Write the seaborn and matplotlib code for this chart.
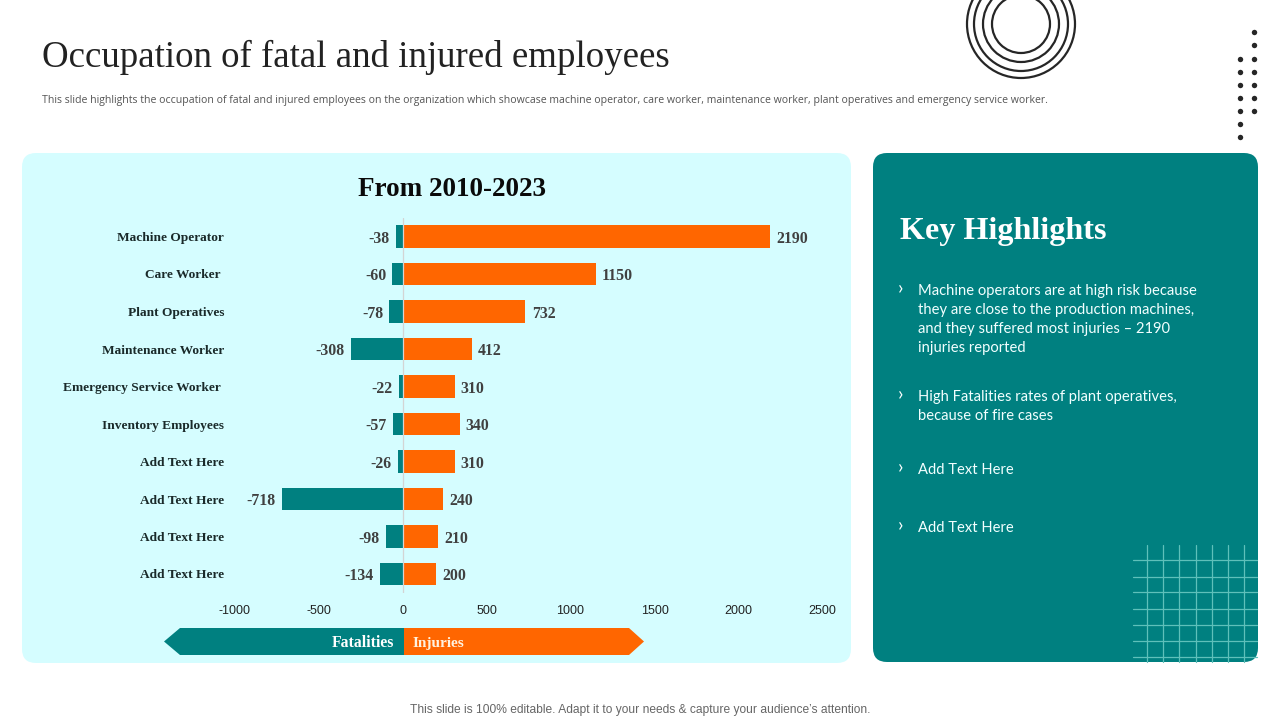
import matplotlib
matplotlib.use('Agg')
import matplotlib.pyplot as plt
from matplotlib.patches import FancyBboxPatch, Polygon, Circle
import pandas as pd
import seaborn as sns

occupations = ['Machine Operator', 'Care Worker ', 'Plant Operatives', 'Maintenance Worker',
               'Emergency Service Worker ', 'Inventory Employees', 'Add Text Here',
               'Add Text Here', 'Add Text Here', 'Add Text Here']
fatalities = [-38, -60, -78, -308, -22, -57, -26, -718, -98, -134]
injuries = [2190, 1150, 732, 412, 310, 340, 310, 240, 210, 200]
x_ticks = [-1000, -500, 0, 500, 1000, 1500, 2000, 2500]

title = 'Occupation of fatal and injured employees'
subtitle = ('This slide highlights the occupation of fatal and injured employees on the organization '
            'which showcase machine operator, care worker, maintenance worker, plant operatives '
            'and emergency service worker.')
footer = "This slide is 100% editable. Adapt it to your needs & capture your audience\u2019s attention."
highlights = [
    (290.5, ['Machine operators are at high risk because', 'they are close to the production machines,',
             'and they suffered most injuries \u2013 2190', 'injuries reported']),
    (396.5, ['High Fatalities rates of plant operatives,', 'because of fire cases']),
    (469.5, ['Add Text Here']),
    (527.5, ['Add Text Here']),
]

TEAL = '#008080'
ORANGE = '#FF6600'
PALE = '#D5FDFF'
INK = '#222222'
SERIF = 'Liberation Serif'

sns.set_theme(style='white')
fig = plt.figure(figsize=(12.8, 7.2), dpi=100, facecolor='white')

# full slide layer in pixel coordinates for the panels and decoration
bg = fig.add_axes([0, 0, 1, 1])
bg.set_xlim(0, 1280)
bg.set_ylim(720, 0)
bg.axis('off')


def panel(x0, y0, x1, y1, color):
    r = 14
    bg.add_patch(FancyBboxPatch((x0 + r, y0 + r), x1 - x0 - 2 * r, y1 - y0 - 2 * r,
                                boxstyle=f'round,pad={r},rounding_size={r}',
                                fc=color, ec='none'))


panel(22, 153, 851, 663, PALE)
panel(873, 153, 1258, 662, TEAL)

# rings at the top, cut by the slide edge
for r in (29, 38, 47, 54):
    bg.add_patch(Circle((1021, 24), r, fc='none', ec='#262626', lw=1.6))

# dot column decoration
for y in (32, 45, 59, 72, 85, 98, 111):
    bg.plot(1254, y, 'o', color='#262626', ms=3.9, mew=0)
for y in (59, 72, 85, 98, 111, 124, 137):
    bg.plot(1240, y, 'o', color='#262626', ms=3.9, mew=0)

# grid decoration in the corner of the key highlights panel
for x in (1147, 1163, 1179, 1196, 1212, 1228, 1244):
    bg.plot([x, x], [545, 662], color='#5FC0BA', lw=0.9)
for y in (560, 577, 592, 609, 625, 641, 657):
    bg.plot([1133, 1257], [y, y], color='#5FC0BA', lw=0.9)

bg.text(42, 57, title, family=SERIF, fontsize=26.6, color=INK, va='center', ha='left')
bg.text(42, 100, subtitle, family='Open Sans', fontsize=7.6, color='#555555', va='center', ha='left')
bg.text(640.5, 710.5, footer, family='Liberation Sans', fontsize=8.65, color='#666666', va='center', ha='center')
bg.text(452, 189, 'From 2010-2023', family=SERIF, fontsize=19.5, weight='bold', color='#0A0A0A',
        va='center', ha='center')

# right panel text
bg.text(900, 231, 'Key Highlights', family=SERIF, fontsize=23.1, weight='bold', color='white',
        va='center', ha='left')
for y, lines in highlights:
    bg.text(901, y - 2.5, '\u203a', family='Lato', fontsize=14, color='white', va='center', ha='center')
    for i, line in enumerate(lines):
        bg.text(918, y + i * 19.3, line, family='Lato', fontsize=10.6, color='#F2FFFF', va='center', ha='left')

# legend arrows
bg.add_patch(Polygon([(404, 628), (180, 628), (164, 641.5), (180, 655), (404, 655)], fc=TEAL, ec='none'))
bg.add_patch(Polygon([(404, 628), (629, 628), (644, 641.5), (629, 655), (404, 655)], fc=ORANGE, ec='none'))
bg.text(394, 643, 'Fatalities', family=SERIF, fontsize=11.3, weight='bold', color='white', va='center', ha='right')
bg.text(413, 643, 'Injuries', family=SERIF, fontsize=11, weight='bold', color='#FFF2E0', va='center', ha='left')

# the chart itself, x from -1000 to 2500 and one band per occupation
left, right, top, bottom = 234.5, 822.5, 217.75, 592.75
ax = fig.add_axes([left / 1280, 1 - bottom / 720, (right - left) / 1280, (bottom - top) / 720])
ax.patch.set_alpha(0)

bands = list(range(len(occupations)))
df = pd.DataFrame({'band': bands * 2,
                   'count': fatalities + injuries,
                   'kind': ['Fatalities'] * len(bands) + ['Injuries'] * len(bands)})
sns.barplot(data=df, y='band', x='count', hue='kind', dodge=False, orient='h',
            palette={'Fatalities': TEAL, 'Injuries': ORANGE},
            width=0.6, saturation=1, linewidth=0, legend=False, ax=ax)

ax.set_xlim(x_ticks[0], x_ticks[-1])
ax.set_ylim(len(bands) - 0.5, -0.5)
ax.set_xticks(x_ticks)
ax.set_xticklabels([str(t) for t in x_ticks], family='Liberation Sans', fontsize=9, color='#222222')
ax.set_yticks(bands)
ax.set_yticklabels(occupations, family=SERIF, fontsize=9.6, weight='bold', color='#1A2A2A', ha='right')
ax.tick_params(axis='y', length=0, pad=7.5)
ax.tick_params(axis='x', length=0, pad=8.5)
ax.set_xlabel('')
ax.set_ylabel('')
for side in ax.spines.values():
    side.set_visible(False)
ax.axvline(0, color='#D4D4D4', lw=0.9, zorder=5)

for container in ax.containers:
    labels = [str(int(v)) for v in container.datavalues]
    texts = ax.bar_label(container, labels=labels, padding=4.5, family=SERIF, fontsize=11.4,
                         weight='bold', color='#404040')
    # sit the numbers a little lower, on the bar centre
    for t in texts:
        t.xyann = (t.xyann[0], -1.5)

fig.savefig('out.png', dpi=100, facecolor='white')
